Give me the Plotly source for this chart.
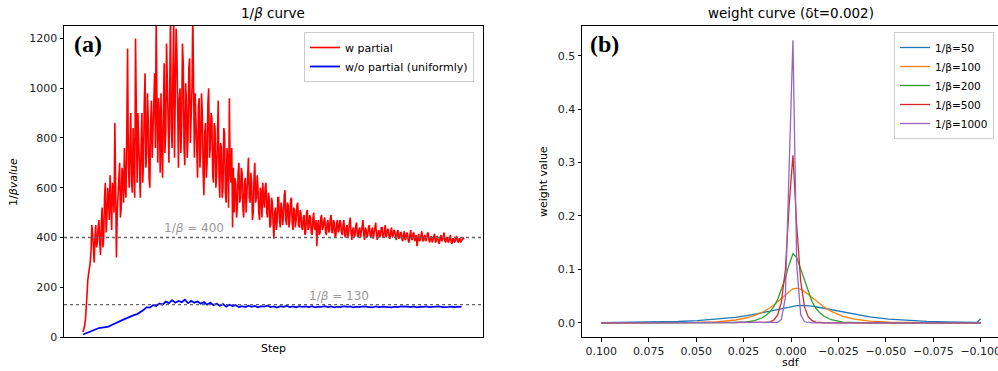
import plotly.graph_objects as go

# ---------------- data: panel (a) ----------------
red_w_partial = [
    20, 30, 45, 70, 110, 170, 230, 250, 270, 300, 340, 450, 420, 330, 300, 400, 450, 360, 380, 440, 470, 380, 330, 460,
    520, 360, 400, 560, 620, 420, 480, 600, 560, 470, 650, 540, 430, 620, 580, 500, 860, 600, 320, 500,
    560, 650, 700, 480, 520, 680, 640, 540, 760, 600, 560, 820, 1160, 700, 600, 760, 900, 620, 580, 840,
    720, 560, 1200, 700, 620, 900, 780, 640,
    560, 780, 900, 620, 700, 940, 1060, 680, 740, 980, 880, 640, 600, 860, 950, 720, 820, 1000, 1060, 760,
    1300, 900, 700, 960, 880, 660,
    980, 760, 640, 900, 1100, 740, 820, 1180, 1020, 780, 700, 1000, 1300, 840, 760, 1060, 1280, 720, 900, 1240,
    1150, 800, 680, 960, 1000, 740, 850, 1180, 1100, 760, 690, 1020, 950, 720, 800, 1080, 1120, 780, 860, 1000,
    1300, 820, 720, 980,
    880, 700, 640, 920, 960, 680, 760, 980, 900, 660, 570, 820, 860, 640, 700, 940, 1000, 720, 760, 900,
    880, 650, 620, 860, 840, 600,
    650, 800, 950, 640, 560, 780, 760, 560, 600, 840, 820, 580, 540, 760, 700, 520, 960, 660, 620, 760,
    440, 680, 500, 640,
    620, 480, 520, 660, 700, 540, 560, 680, 660, 520, 480, 620, 640, 500, 580, 700, 720, 560, 540, 660,
    620, 470, 500, 640, 700, 540, 560, 650, 600, 500, 470, 600, 580, 480, 620, 560, 520, 600,
    620, 500, 480, 580, 560, 440, 450, 560, 540, 460, 395, 500, 520, 430, 460, 560, 560, 470, 440, 540,
    520, 450, 480, 570, 590, 470, 450, 540, 530, 440, 470, 550, 560, 460, 430, 520, 510, 440, 470, 530,
    540, 450, 440, 510,
    500, 440, 430, 480, 490, 410, 420, 500, 510, 430, 440, 490, 480, 420, 410, 470, 500, 440, 430, 470,
    365, 450, 470, 410, 420, 480, 490, 430, 440, 470, 480, 420, 410, 460, 470, 420, 430, 480, 490, 420,
    420, 470, 460, 400, 410, 460, 470, 420, 430, 470,
    460, 420, 410, 450, 470, 410, 400, 440, 450, 400, 420, 460, 480, 420, 390, 430, 440, 400, 410, 450,
    460, 410, 400, 430, 440, 400, 420, 450, 470, 410, 390, 440, 430, 400, 410, 440, 450, 410, 400, 430,
    440, 395, 420, 450, 460, 410, 390, 420, 430, 400, 410, 440, 440, 405, 400, 430, 450, 400, 410, 435,
    430, 400, 395, 425, 440, 400, 410, 430, 425, 400, 390, 420, 430, 395, 400, 420,
    420, 395, 385, 410, 425, 390, 395, 420, 415, 385, 380, 410, 430, 395, 390, 415, 420, 385, 400, 410,
    365, 400, 415, 385, 390, 410, 425, 390, 385, 405, 410, 385, 395, 415, 420, 390, 380, 400, 405, 380,
    390, 410, 415, 380, 385, 405, 400, 380, 375, 400, 410, 385, 390, 405, 420, 385, 380, 400, 400, 380,
    385, 400, 410, 380, 375, 395, 395, 380, 385, 400, 405, 385, 380, 395, 395, 380, 385, 395, 400, 392,
]
step_red = list(range(len(red_w_partial)))
blue_wo_partial = [
    10, 15, 20, 26, 32, 36, 38, 40, 42, 48, 55, 62, 66, 72, 78, 82, 88, 92, 100, 108,
    120, 118, 128, 125, 135, 130, 142, 136, 148, 138, 145, 140, 150, 136, 145, 138, 143, 134, 140, 130,
    138, 128, 134, 126, 132, 122, 130, 124, 128, 120,
    124, 120, 126, 121, 125, 119, 124, 122, 126, 120, 123, 118, 124, 121, 125, 120, 123, 119, 124, 121,
    123, 120, 124, 119, 122, 121, 124, 120, 123, 119, 122, 120, 124, 121, 123, 119, 122, 120, 123, 121,
    122, 119, 123, 120, 122, 121, 123, 119, 122, 120, 123, 121, 122, 120, 123, 119, 122, 121, 123, 120,
    122, 121, 123, 120, 122, 121, 122, 120, 122, 121,
]
step_blue = [4 * k for k in range(len(blue_wo_partial))]
ref_levels = [400, 130]
ref_labels = ["1/<i>β</i> = 400", "1/<i>β</i> = 130"]
ref_label_steps = [140, 322]

# ---------------- data: panel (b) ----------------
sdf = [0.1, 0.0899, 0.0798, 0.0697, 0.0596, 0.0495, 0.0394, 0.0293, 0.0232, 0.0192,
       0.0152, 0.0131, 0.0111, 0.0091, 0.0071, 0.0051, 0.0030, 0.0010, -0.0010, -0.0030,
       -0.0051, -0.0071, -0.0091, -0.0111, -0.0131, -0.0152, -0.0172, -0.0212, -0.0273, -0.0333,
       -0.0414, -0.0515, -0.0616, -0.0717, -0.0818, -0.0919, -0.0980, -0.1]
w_50 = [0.0003, 0.0006, 0.0009, 0.0015, 0.0025, 0.0041, 0.0066, 0.0104, 0.0136, 0.0160,
        0.0188, 0.0203, 0.0218, 0.0235, 0.0250, 0.0267, 0.0283, 0.0300, 0.0314, 0.0323,
        0.0327, 0.0325, 0.0320, 0.0311, 0.0301, 0.0287, 0.0274, 0.0244, 0.0199, 0.0158,
        0.0113, 0.0071, 0.0044, 0.0027, 0.0017, 0.0010, 0.0008, 0.0075]
w_100 = [0.0, 0.0, 0.0, 0.0001, 0.0003, 0.0007, 0.0019, 0.0053, 0.0095, 0.0138,
         0.0198, 0.0238, 0.0282, 0.0332, 0.0389, 0.0449, 0.0516, 0.0581, 0.0637, 0.0651,
         0.0629, 0.0586, 0.0531, 0.0471, 0.0412, 0.0353, 0.0301, 0.0215, 0.0123, 0.0070,
         0.0032, 0.0012, 0.0004, 0.0002, 0.0001, 0.0, 0.0, 0.0]
w_200 = [0.0, 0.0, 0.0, 0.0, 0.0, 0.0, 0.0001, 0.0006, 0.0019, 0.0043,
         0.0095, 0.0142, 0.0207, 0.0302, 0.0434, 0.0612, 0.0836, 0.1093, 0.1294, 0.1221,
         0.1005, 0.0767, 0.0558, 0.0395, 0.0273, 0.0187, 0.0127, 0.0058, 0.0012, 0.0004,
         0.0001, 0.0, 0.0, 0.0, 0.0, 0.0, 0.0, 0.0]
w_500 = [0.0, 0.0, 0.0, 0.0, 0.0, 0.0, 0.0, 0.0, 0.0, 0.0,
         0.0003, 0.0007, 0.0019, 0.0053, 0.0145, 0.0387, 0.0986, 0.2206, 0.3134, 0.1814,
         0.0773, 0.0298, 0.0111, 0.0041, 0.0015, 0.0005, 0.0002, 0.0, 0.0, 0.0,
         0.0, 0.0, 0.0, 0.0, 0.0, 0.0, 0.0, 0.0]
w_1000 = [0.0, 0.0, 0.0, 0.0, 0.0, 0.0, 0.0, 0.0, 0.0, 0.0,
          0.0, 0.0, 0.0, 0.0001, 0.0009, 0.0064, 0.0472, 0.2908, 0.5289, 0.1079,
          0.0151, 0.0020, 0.0003, 0.0, 0.0, 0.0, 0.0, 0.0, 0.0, 0.0,
          0.0, 0.0, 0.0, 0.0, 0.0, 0.0, 0.0, 0.0]
weight_series = [("1/β=50", w_50, "#1f77b4"), ("1/β=100", w_100, "#ff7f0e"),
                 ("1/β=200", w_200, "#2ca02c"), ("1/β=500", w_500, "#d62728"),
                 ("1/β=1000", w_1000, "#9467bd")]
sdf_ticks = [0.1, 0.075, 0.05, 0.025, 0.0, -0.025, -0.05, -0.075, -0.1]

FONT = "DejaVu Sans"
W, H = 998, 371

fig = go.Figure()
fig.add_trace(go.Scatter(x=step_red, y=red_w_partial, mode="lines", name="w partial",
                         line=dict(color="#ff0000", width=1.6), xaxis="x", yaxis="y", legend="legend"))
fig.add_trace(go.Scatter(x=step_blue, y=blue_wo_partial, mode="lines", name="w/o partial (uniformly)",
                         line=dict(color="#0000ff", width=1.8), xaxis="x", yaxis="y", legend="legend"))
for name, vals, col in weight_series:
    fig.add_trace(go.Scatter(x=sdf, y=vals, mode="lines", name=name,
                             line=dict(color=col, width=1.3), xaxis="x2", yaxis="y2", legend="legend2"))

def px(x):
    return x / W

def py(y):
    return 1 - y / H

axis_common = dict(showline=True, linecolor="black", linewidth=1, showgrid=False, zeroline=False,
                   automargin=False, tickfont=dict(family=FONT, size=11, color="#222"),
                   ticks="outside", ticklen=3.5, tickcolor="black", tickwidth=1)

shapes = []
annotations = []
for lvl, lab, st in zip(ref_levels, ref_labels, ref_label_steps):
    shapes.append(dict(type="line", xref="x domain", x0=0, x1=1, yref="y", y0=lvl, y1=lvl,
                       line=dict(color="#666666", width=1.3, dash="dot")))
    annotations.append(dict(x=st, y=lvl, xref="x", yref="y", text=lab, showarrow=False,
                            xanchor="center", yanchor="bottom",
                            font=dict(family=FONT, size=12, color="#999999")))

def label(x, y, text, size=11, angle=0, family=FONT, **kw):
    annotations.append(dict(x=px(x), y=py(y), xref="paper", yref="paper", text=text,
                            showarrow=False, textangle=angle, xanchor=kw.get("xa", "center"),
                            yanchor="middle", font=dict(family=family, size=size, color="black")))

label(273, 13, "1/<i>β</i> curve", size=13.5)
label(791, 13, "weight curve (δt=0.002)", size=13.5)
label(273, 348, "Step")
label(791, 362, "sdf")
label(13, 182, "1/<i>βvalue</i>", angle=-90)
label(543, 182, "weight value", angle=-90)
label(72, 44, "<b>(a)</b>", size=24, family="Liberation Serif", xa="left")
label(588, 44, "<b>(b)</b>", size=24, family="Liberation Serif", xa="left")

n_last = step_red[-1]
fig.update_layout(
    width=W, height=H, margin=dict(l=0, r=0, t=0, b=0),
    paper_bgcolor="white", plot_bgcolor="white",
    xaxis=dict(domain=[px(64), px(483)], range=[-0.05 * n_last, 1.05 * n_last], showticklabels=False,
               ticks="", mirror=True, showline=True, linecolor="black", linewidth=1,
               showgrid=False, zeroline=False, anchor="y"),
    yaxis=dict(domain=[py(337), py(26)], range=[0, 1250],
               tickvals=[0, 200, 400, 600, 800, 1000, 1200], mirror=True, anchor="x", **axis_common),
    xaxis2=dict(domain=[px(582), 1.0], range=[0.1102, -0.1091], tickvals=sdf_ticks,
                tickformat=".3f", mirror=True, anchor="y2", ticklabeloverflow="allow", **axis_common),
    yaxis2=dict(domain=[py(337), py(26)], range=[-0.0265, 0.5555],
                tickvals=[0, 0.1, 0.2, 0.3, 0.4, 0.5], tickformat=".1f", mirror=False,
                anchor="x2", **axis_common),
    legend=dict(x=px(304), y=py(32), xanchor="left", yanchor="top",
                bgcolor="rgba(255,255,255,0.8)", bordercolor="#cccccc", borderwidth=1,
                font=dict(family=FONT, size=11, color="black"), itemwidth=30,
                tracegroupgap=0),
    legend2=dict(x=px(894), y=py(32), xanchor="left", yanchor="top",
                 bgcolor="rgba(255,255,255,0.8)", bordercolor="#cccccc", borderwidth=1,
                 font=dict(family=FONT, size=10.5, color="black"), itemwidth=30,
                 tracegroupgap=0),
    shapes=shapes, annotations=annotations, showlegend=True,
)

fig.write_html("out.html", config={"displayModeBar": False},
               post_script="document.body.style.margin='0px';document.body.style.overflow='hidden';")
